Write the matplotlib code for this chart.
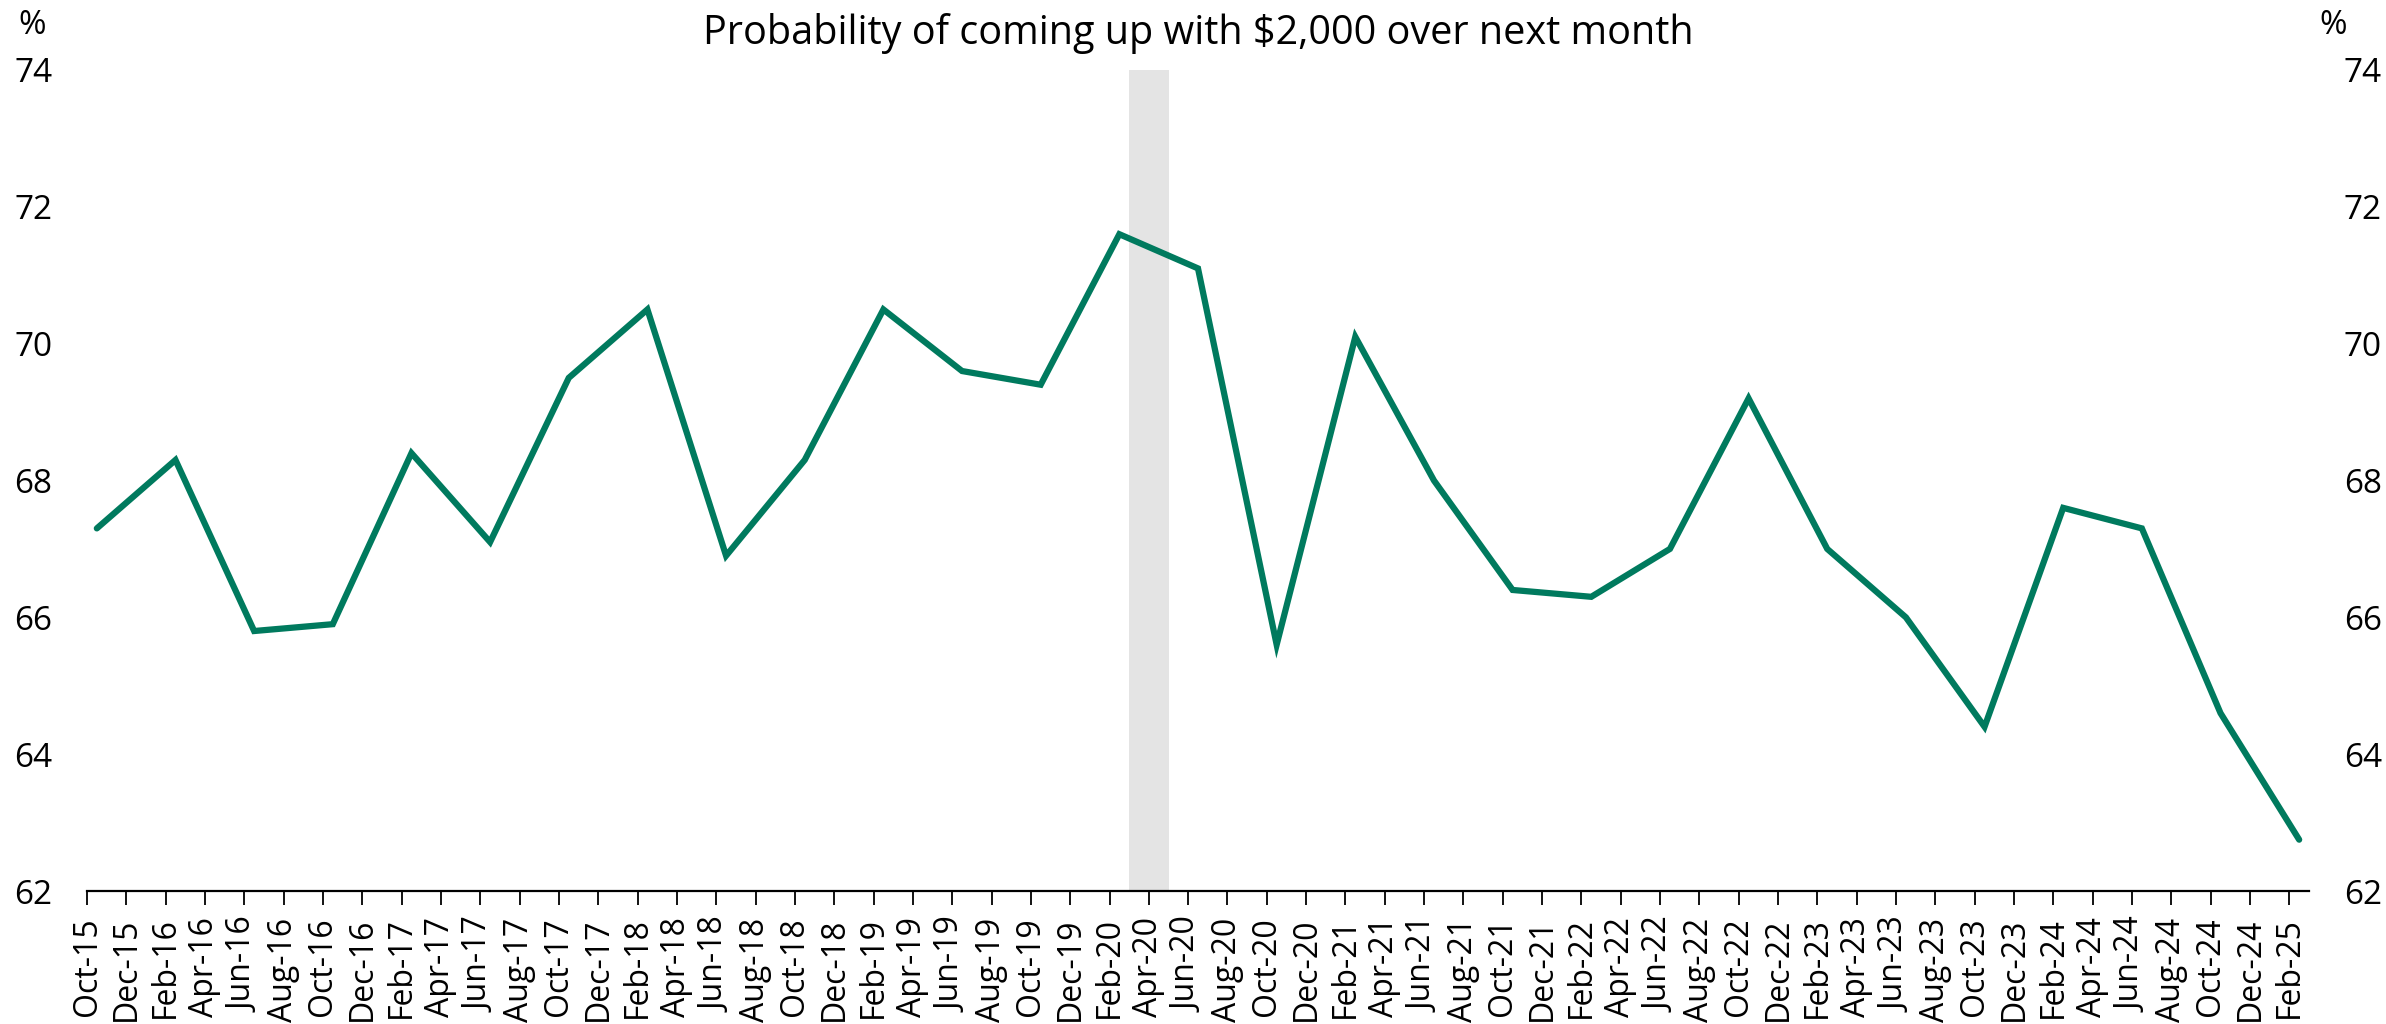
import matplotlib
matplotlib.use("Agg")
import matplotlib.pyplot as plt
import pandas as pd

plt.rcParams['font.family'] = ['Open Sans', 'DejaVu Sans']

# ---- data ----
survey_months = ['Oct-15', 'Feb-16', 'Jun-16', 'Oct-16', 'Feb-17', 'Jun-17', 'Oct-17',
                 'Feb-18', 'Jun-18', 'Oct-18', 'Feb-19', 'Jun-19', 'Oct-19', 'Feb-20',
                 'Jun-20', 'Oct-20', 'Feb-21', 'Jun-21', 'Oct-21', 'Feb-22', 'Jun-22',
                 'Oct-22', 'Feb-23', 'Jun-23', 'Oct-23', 'Feb-24', 'Jun-24', 'Oct-24',
                 'Feb-25']
probability = [67.3, 68.3, 65.8, 65.9, 68.4, 67.1, 69.5,
               70.5, 66.9, 68.3, 70.5, 69.6, 69.4, 71.6,
               71.1, 65.6, 70.1, 68.0, 66.4, 66.3, 67.0,
               69.2, 67.0, 66.0, 64.4, 67.6, 67.3, 64.6,
               62.75]
axis_start = 'Oct-15'
axis_end = 'Feb-25'
shade_start = 'Mar-20'
shade_end = 'Apr-20'
y_ticks = [62, 64, 66, 68, 70, 72, 74]
title = 'Probability of coming up with $2,000 over next month'

# ---- helpers ----
def month_index(label):
    d = pd.to_datetime(label, format='%b-%y')
    s = pd.to_datetime(axis_start, format='%b-%y')
    return (d.year - s.year) * 12 + (d.month - s.month)

x = [month_index(m) + 0.5 for m in survey_months]
n_end = month_index(axis_end)
tick_pos = list(range(0, n_end + 1, 2))
start_dt = pd.to_datetime(axis_start, format='%b-%y')
tick_labels = [(start_dt + pd.DateOffset(months=i)).strftime('%b-%y') for i in tick_pos]

# ---- figure ----
fig = plt.figure(figsize=(23.86, 10.24), dpi=100)
ax = fig.add_axes([87 / 2386, 1 - 891 / 1024, (2309 - 87) / 2386, (891 - 70) / 1024])

ax.axvspan(month_index(shade_start), month_index(shade_end) + 1,
           color='#e4e4e4', lw=0, zorder=1)
ax.plot(x, probability, color='#007a5e', lw=4.5, solid_joinstyle='miter',
        solid_capstyle='round', zorder=3)

ax.set_xlim(0, n_end + 1)
ax.set_ylim(62, 74)
ax.set_yticks(y_ticks)
ax.set_xticks(tick_pos)
ax.set_xticklabels(tick_labels, rotation=90)

for s in ['top', 'left', 'right']:
    ax.spines[s].set_visible(False)
ax.spines['bottom'].set_linewidth(1.6)
ax.spines['bottom'].set_zorder(4)

ax.tick_params(axis='x', length=10, width=1.3, direction='out', pad=9,
               labelsize=23)
ax.tick_params(axis='y', length=0, pad=25, labelsize=24,
               left=True, right=True, labelleft=True, labelright=True)

fig.text(32 / 2386, 1 - 25 / 1024, '%', fontsize=24, ha='center', va='center')
fig.text(2333 / 2386, 1 - 25 / 1024, '%', fontsize=24, ha='center', va='center')
fig.text((87 + 2309) / 2 / 2386, 1 - 34 / 1024, title, fontsize=28.5,
         ha='center', va='center')

fig.savefig('out.png', dpi=100)
